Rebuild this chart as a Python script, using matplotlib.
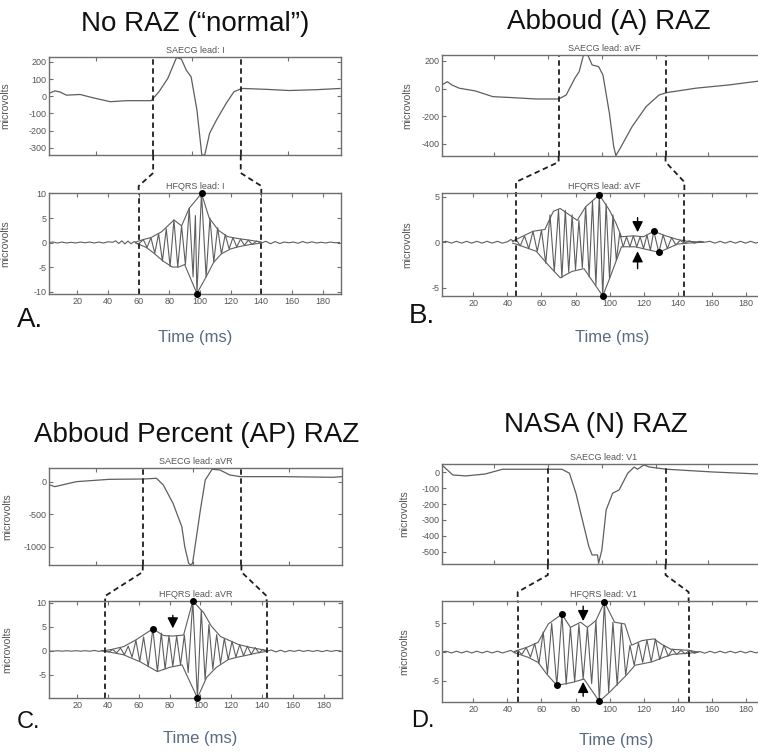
import matplotlib.pyplot as plt
from matplotlib.lines import Line2D

plt.rcParams['font.family'] = ['Liberation Sans', 'DejaVu Sans']
plt.rcParams['axes.unicode_minus'] = False

# ---------------- data ----------------
titles = ['No RAZ (\u201cnormal\u201d)', 'Abboud (A) RAZ', 'Abboud Percent (AP) RAZ', 'NASA (N) RAZ']
tags = ['A.', 'B.', 'C.', 'D.']
leads = ['I', 'aVF', 'aVR', 'V1']

# SAECG traces (time units 0..300, microvolts)
sa_A = [(0, 16), (6, 31), (11, 25), (18, 6), (32, 10), (45, -9), (63, -32), (80, -26), (105, -26),
        (113, 26), (122, 103), (131, 225), (136, 216), (141, 152), (146, 113), (152, -81), (157, -342),
        (160, -342), (165, -216), (172, -139), (182, -42), (190, 26), (196, 40), (199, 45), (223, 40),
        (247, 33), (275, 38), (299, 45)]
sa_B = [(0, 27), (5, 50), (9, 27), (16, 3), (31, -17), (47, -58), (65, -65), (87, -75), (108, -75),
        (115, -46), (123, 75), (127, 123), (131, 243), (135, 243), (139, 171), (145, 159), (149, 99),
        (155, -178), (159, -419), (161, -484), (165, -431), (176, -275), (189, -130), (201, -46),
        (208, -29), (235, 3), (266, 27), (294, 55)]
sa_C = [(1, -46), (6, -72), (28, 5), (62, 41), (97, 46), (110, 57), (117, -46), (127, -328), (136, -688),
        (139, -995), (143, -1251), (145, -1275), (147, -1251), (149, -1046), (155, -431), (160, 31),
        (167, 195), (175, 185), (185, 108), (196, 82), (240, 82), (291, 72), (300, 82)]
sa_D = [(0, 46), (5, 14), (10, -17), (22, -23), (40, -11), (56, 19), (81, 19), (111, 19), (118, -6),
        (124, -132), (130, -300), (136, -468), (139, -520), (144, -520), (145, -572), (148, -489),
        (152, -237), (158, -132), (164, -111), (172, -6), (178, 33), (181, 19), (187, 46), (192, 33),
        (208, 19), (250, 2), (294, -11)]

# HFQRS traces (ms, microvolts)
hf_A = [(1, 0.0), (4, 0.1), (7, -0.1), (10, 0.1), (13, -0.1), (16, 0.05), (19, -0.1), (22, 0.1),
        (25, -0.05), (28, 0.1), (31, -0.1), (34, 0.1), (37, -0.1), (40, 0.15), (43, 0.05), (45, 0.35),
        (47, -0.2), (49, 0.35), (51, -0.3), (53, 0.3), (55, -0.25), (57, 0.2), (58.5, -0.1),
        (60, -0.3), (63, 0.6), (65.5, -1.0), (68, 1.0), (70.5, -2.2), (73, 1.8), (75.5, -3.8), (78, 2.8),
        (80.5, -4.9), (83, 4.6), (85.5, -5.0), (88, 3.4), (90.5, -4.5), (93, 7.0), (95.5, -7.0),
        (97, 5.5), (98, -10.4), (101, 10.0), (104, -7.0), (106.5, 5.0), (109, -4.0), (111.5, 3.0),
        (114, -2.3), (116.5, 1.6), (119, -1.3), (121.5, 1.0), (124, -0.9), (126.5, 0.7), (129, -0.6),
        (131.5, 0.5), (134, -0.4), (137, 0.3), (140, -0.1), (143, 0.25), (146, -0.25), (149, 0.2),
        (152, -0.2), (155, 0.1), (158, -0.05), (161, 0.1), (164, -0.15), (167, 0.2), (170, -0.1),
        (173, 0.15), (176, -0.1), (179, 0.05), (182, -0.1), (185, 0.1), (188, -0.05), (191, 0.0)]
hf_B = [(1, 0.0), (4, 0.1), (7, -0.1), (10, 0.1), (13, -0.1), (16, 0.1), (19, -0.1), (22, 0.1),
        (25, -0.1), (28, 0.1), (31, -0.1), (34, 0.1), (37, -0.1), (40, 0.05), (42, 0.3), (43.5, 0.1),
        (45, 0.3), (47.5, -0.4), (50, 0.7), (52.5, -0.7), (55, 1.2), (57.5, -1.0), (60, 1.3),
        (62.5, -2.3), (65, 3.0), (67.5, -3.2), (70, 3.6), (72, -3.9), (74, 3.5), (76, -3.3), (78, 3.0),
        (80, -3.0), (82, 2.4), (84, -2.8), (86, 3.9), (88, -3.8), (90, 4.5), (92, -4.7), (94, 5.2),
        (96, -5.9), (98, 4.2), (100, -4.0), (102, 3.0), (104, -2.0), (106, 1.0), (108, -0.5),
        (110, 0.6), (112, -0.5), (114, 0.7), (116, -0.5), (118, 0.6), (120, -0.7), (122, 0.8),
        (124, -0.9), (126, 1.2), (129, -1.1), (131.5, 0.8), (134, -0.7), (136.5, 0.5), (139, -0.3),
        (141.5, 0.2), (144, -0.1), (147, 0.15), (150, -0.1), (153, 0.1), (156, 0.0), (159, 0.1),
        (162, -0.1), (165, 0.1), (168, -0.1), (171, 0.1), (174, -0.1), (177, 0.1), (180, -0.1),
        (183, 0.1), (186, -0.1), (189, 0.1), (192, 0.0), (195, 0.1)]
hf_C = [(1, 0.0), (4, -0.05), (7, 0.05), (10, -0.05), (13, 0.05), (16, -0.05), (19, 0.05), (22, -0.05),
        (25, 0.05), (28, -0.05), (31, 0.1), (34, -0.1), (36, 0.1),
        (38, 0.0), (40.5, -0.2), (43, 0.3), (45.5, -0.4), (48, 0.6), (50.5, -0.8), (53, 1.0),
        (55.5, -1.3), (58, 2.2), (60.5, -2.2), (63, 2.9), (66, -3.3), (69, 4.6), (72, -4.3),
        (74.5, 3.7), (77, -3.8), (79.5, 3.2), (82, -3.2), (84.5, 3.1), (87, -2.9), (89.5, 3.3),
        (92, -4.5), (95, 10.4), (98, -9.8), (100.5, 8.5), (103, -6.0), (105.5, 5.5), (108, -3.8),
        (110.5, 3.4), (113, -2.6), (115.5, 2.6), (118, -1.8), (120.5, 2.0), (123, -1.3), (125.5, 1.3),
        (128, -1.0), (130.5, 1.0), (133, -0.7), (135.5, 0.7), (138, -0.4), (140.5, 0.3), (143, -0.1),
        (146, 0.2), (149, -0.2), (152, 0.15), (155, -0.2), (158, 0.1), (161, -0.1), (164, 0.15),
        (167, -0.1), (170, 0.1), (173, -0.1), (176, 0.1), (179, -0.15), (182, 0.1), (185, -0.1),
        (188, 0.1), (191, 0.0)]
hf_D = [(1, 0.0), (4, 0.15), (7, -0.15), (10, 0.15), (13, -0.15), (16, 0.15), (19, -0.15), (22, 0.15),
        (25, -0.15), (28, 0.15), (31, -0.15), (34, 0.15), (37, -0.15), (40, 0.1), (42, 0.3), (44, -0.1),
        (46, 0.3), (48.5, -0.4), (51, 0.8), (53.5, -0.9), (56, 1.5), (58.5, -2.0), (61, 3.5),
        (63.5, -3.8), (66, 5.0), (69, -5.8), (72, 6.6), (74.5, -5.6), (77, 4.3), (79.5, -5.2), (82, 4.8),
        (84.5, -4.7), (87, 4.3), (89.5, -5.5), (92, 5.5), (94, -8.6), (97, 8.7), (99.5, -7.0),
        (102, 5.2), (104.5, -5.8), (107, 5.0), (109.5, -4.0), (112, 1.2), (114.5, -2.3), (117, 1.6),
        (119.5, -1.8), (122, 2.1), (124.5, -1.7), (127, 2.3), (129.5, -1.3), (132, 1.2), (134.5, -0.7),
        (137, 0.5), (139.5, -0.4), (142, 0.3), (144.5, -0.3), (147, 0.3), (150, -0.2), (153, 0.1),
        (156, -0.2), (159, 0.15), (162, -0.15), (165, 0.15), (168, -0.15), (171, 0.15), (174, -0.15),
        (177, 0.15), (180, -0.15), (183, 0.15), (186, -0.15), (189, 0.15), (192, 0.0), (195, 0.1)]

# envelopes (upper / lower)
up_A = [(58, 0.1), (63, 0.6), (68, 1.0), (75, 2.2), (83, 4.6), (88, 3.4), (93, 7.0), (101, 10.0),
        (106, 5.0), (112, 2.5), (118, 1.2), (125, 0.8), (132, 0.5), (140, 0.1)]
lo_A = [(58, -0.1), (65, -1.0), (70, -2.2), (76, -3.8), (82, -5.0), (86, -5.0), (90, -4.5),
        (98, -10.4), (104, -7.0), (109, -4.0), (114, -2.3), (120, -1.3), (126, -0.8), (133, -0.4),
        (140, -0.1)]
up_B = [(43, 0.1), (45, 0.3), (55, 1.2), (62, 1.4), (67, 3.4), (71, 3.7), (81, 2.4), (86, 3.9),
        (94, 5.2), (100, 3.5), (104, 2.0), (107, 0.6), (114, 0.7), (120, 0.6), (126, 1.2), (133, 0.7),
        (140, 0.3), (146, 0.1), (155, 0.0)]
lo_B = [(43, -0.1), (45, -0.2), (57, -1.0), (63, -2.3), (71, -3.9), (78, -3.2), (85, -2.9),
        (96, -5.9), (100, -4.0), (104, -2.0), (107, -0.5), (115, -0.5), (122, -0.8), (129, -1.1),
        (134, -0.7), (140, -0.2), (146, -0.1), (155, 0.0)]
up_C = [(36, 0.0), (42, 0.3), (50, 0.9), (58, 2.3), (69, 4.6), (76, 3.2), (82, 3.1), (89, 3.3),
        (95, 10.4), (102, 8.0), (107, 5.2), (113, 3.0), (120, 2.0), (125, 1.3), (133, 0.7), (143, 0.1)]
lo_C = [(36, 0.0), (42, -0.3), (50, -0.8), (61, -2.3), (72, -4.3), (80, -3.4), (88, -2.9), (98, -9.8),
        (104, -5.5), (110, -3.5), (118, -1.8), (124, -1.3), (130, -0.9), (137, -0.4), (143, -0.1)]
up_D = [(44, 0.1), (46, 0.3), (52, 0.9), (58, 1.7), (64, 4.9), (72, 6.6), (77, 4.3), (83, 5.2),
        (87, 4.3), (92, 5.5), (97, 8.7), (103, 5.2), (109, 4.9), (113, 1.2), (119, 2.0), (126, 2.3),
        (131, 1.3), (136, 0.5), (147, 0.3), (152, 0.0)]
lo_D = [(44, -0.1), (46, -0.3), (52, -0.9), (58, -1.8), (63, -3.8), (69, -5.8), (78, -5.3),
        (85, -4.7), (94, -8.6), (100, -7.0), (110, -4.0), (115, -2.3), (125, -1.7), (131, -1.0),
        (137, -0.4), (147, -0.2), (152, 0.0)]

# marked peaks
dots_A = [(101, 10.0), (98, -10.4)]
dots_B = [(94, 5.2), (96, -5.9), (126, 1.2), (129, -1.1)]
dots_C = [(69, 4.6), (95, 10.4), (98, -9.8)]
dots_D = [(72, 6.6), (69, -5.8), (97, 8.7), (94, -8.6)]

# arrows: (x, tail, tip)
arrows_A = []
arrows_B = [(116.5, 2.7, 1.1), (116.5, -2.9, -1.0)]
arrows_C = [(82, 7.4, 4.7)]
arrows_D = [(84.5, 8.0, 5.4), (84.5, -7.7, -5.2)]

# QRS onset / offset (HFQRS ms) and matching position on the SAECG axis
qrs_hf = [(60, 140), (45, 144), (38, 143), (46, 146.5)]
qrs_sa = [(107, 197), (108, 207), (96, 197), (98, 207)]

sa_ylim = [(-342, 228), (-487, 243), (-1277, 215), (-577, 52)]
sa_yticks = [[-300, -200, -100, 0, 100, 200], [-400, -200, 0, 200], [-1000, -500, 0],
             [-500, -400, -300, -200, -100, 0]]
sa_xticks = [[48, 147, 246], [48, 98, 148, 198, 246, 294], [48, 147, 246], [48, 98, 148, 198, 246, 294]]
hf_ylim = [(-10.5, 10.1), (-5.9, 5.4), (-9.8, 10.4), (-8.7, 8.9)]
hf_yticks = [[-10, -5, 0, 5, 10], [-5, 0, 5], [-5, 0, 5, 10], [-5, 0, 5]]
hf_xticks = [20, 40, 60, 80, 100, 120, 140, 160, 180]

# ---------------- layout (pixels in a 758 x 752 canvas) ----------------
W, H = 758, 752
sa_box = [(49, 57, 341, 155), (442, 55, 766, 156), (49, 468, 342, 565), (442, 464, 766, 564)]
hf_box = [(49, 193, 341, 294), (442, 193, 766, 296), (49, 601, 342, 698), (442, 601, 766, 702)]
title_pos = [(195, 24), (609, 22), (197, 435), (596, 425)]
tag_pos = [(17, 327), (409, 323), (17, 728), (411, 727)]
tag_size = [20, 20, 17, 17]
time_pos = [(195, 337), (612, 337), (200, 739), (616, 740)]
conn_off = [(18, 7), (6, 11), (7, 5), (11, 9)]
ylab_x = [-0.134, -0.093, -0.126, -0.10]

LINE = '#5e5e5e'
FRAME = '#6e6e6e'
TXT = '#555555'
DASH = '#1e1e1e'


def box(b):
    l, t, r, bt = b
    return [l / W, 1 - bt / H, (r - l) / W, (bt - t) / H]


def style(ax, lab_x):
    for s in ax.spines.values():
        s.set_color(FRAME)
        s.set_linewidth(1.0)
    ax.tick_params(direction='in', top=True, right=True, length=3, width=0.8,
                   color=FRAME, labelsize=6.5, labelcolor=TXT, pad=2)
    ax.set_ylabel('microvolts', fontsize=7.5, color=TXT)
    ax.yaxis.set_label_coords(lab_x, 0.5)


fig = plt.figure(figsize=(W / 100, H / 100), dpi=100)
fig.patch.set_facecolor('white')

sa_all = [sa_A, sa_B, sa_C, sa_D]
hf_all = [hf_A, hf_B, hf_C, hf_D]
up_all = [up_A, up_B, up_C, up_D]
lo_all = [lo_A, lo_B, lo_C, lo_D]
dots_all = [dots_A, dots_B, dots_C, dots_D]
arrows_all = [arrows_A, arrows_B, arrows_C, arrows_D]

for i in range(4):
    # --- SAECG ---
    ax1 = fig.add_axes(box(sa_box[i]))
    t, v = zip(*sa_all[i])
    ax1.plot(t, v, color=LINE, lw=0.9)
    ax1.set_xlim(0, 300)
    ax1.set_ylim(*sa_ylim[i])
    ax1.set_yticks(sa_yticks[i])
    ax1.set_xticks(sa_xticks[i])
    ax1.set_xticklabels([])
    style(ax1, ylab_x[i])
    ax1.set_title('SAECG lead: ' + leads[i], fontsize=6.5, color=TXT, pad=3)
    for x in qrs_sa[i]:
        ax1.axvline(x, color=DASH, lw=1.3, ls=(0, (3, 2)))

    # --- HFQRS ---
    ax2 = fig.add_axes(box(hf_box[i]))
    t, v = zip(*hf_all[i])
    ax2.plot(t, v, color=LINE, lw=0.8)
    t, v = zip(*up_all[i])
    ax2.plot(t, v, color=LINE, lw=0.8)
    t, v = zip(*lo_all[i])
    ax2.plot(t, v, color=LINE, lw=0.8)
    t, v = zip(*dots_all[i])
    ax2.plot(t, v, 'o', color='black', ms=4, clip_on=False, zorder=5)
    for x, tail, tip in arrows_all[i]:
        ax2.annotate('', xy=(x, tip), xytext=(x, tail),
                     arrowprops=dict(arrowstyle='-|>,head_length=0.8,head_width=0.4', color='black',
                                     lw=1.0, mutation_scale=8, shrinkA=0, shrinkB=0))
    ax2.set_xlim(1.5, 192)
    ax2.set_ylim(*hf_ylim[i])
    ax2.set_yticks(hf_yticks[i])
    ax2.set_xticks(hf_xticks)
    style(ax2, ylab_x[i])
    ax2.set_title('HFQRS lead: ' + leads[i], fontsize=6.5, color=TXT, pad=3)
    for x in qrs_hf[i]:
        ax2.axvline(x, color=DASH, lw=1.3, ls=(0, (3, 2)))

    # --- zoom connectors between the two plots ---
    d1, d2 = conn_off[i]
    to_fig = fig.transFigure.inverted()
    for xs, xh in zip(qrs_sa[i], qrs_hf[i]):
        p1 = ax1.transData.transform((xs, sa_ylim[i][0]))
        p4 = ax2.transData.transform((xh, hf_ylim[i][1]))
        pts = [p1, (p1[0], p1[1] - d1), (p4[0], p4[1] + d2), p4]
        fp = to_fig.transform(pts)
        fig.add_artist(Line2D(fp[:, 0], fp[:, 1], transform=fig.transFigure,
                              color=DASH, lw=1.3, ls=(0, (3, 2))))

    # --- texts ---
    fig.text(title_pos[i][0] / W, 1 - title_pos[i][1] / H, titles[i], fontsize=20,
             ha='center', va='center', color='#111111')
    fig.text(tag_pos[i][0] / W, 1 - tag_pos[i][1] / H, tags[i], fontsize=tag_size[i],
             ha='left', va='baseline', color='#111111')
    fig.text(time_pos[i][0] / W, 1 - time_pos[i][1] / H, 'Time (ms)', fontsize=12,
             ha='center', va='center', color='#5a6a80')

fig.savefig('out.png', dpi=100)
